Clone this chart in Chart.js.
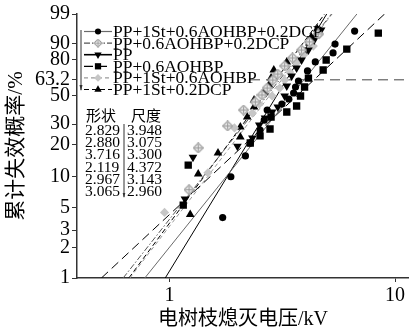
<!DOCTYPE html>
<html>
<head>
<meta charset="utf-8">
<script src="https://cdn.jsdelivr.net/npm/chart.js@4.4.1/dist/chart.umd.min.js"></script>
<style>
  html, body { margin: 0; padding: 0; background: #fff; }
  #wrap { width: 414px; height: 333px; position: relative; }
</style>
</head>
<body>
<div id="wrap"><canvas id="c" width="414" height="333"></canvas></div>
<script>
// series names, Weibull fit parameters (shape, scale)
const names  = ['PP+1St+0.6AOHBP+0.2DCP', 'PP+0.6AOHBP+0.2DCP', 'PP', 'PP+0.6AOHBP', 'PP+1St+0.6AOHBP', 'PP+1St+0.2DCP'];
const shapes = [2.829, 2.880, 3.716, 2.119, 2.967, 3.065];
const scaleK = [3.948, 3.075, 3.300, 4.372, 3.143, 2.960];

// measured points: breakdown voltage (kV) / cumulative failure probability (%)
const v1 = [1.72, 1.87, 2.17, 2.28, 2.52, 2.63, 2.71, 3.15, 3.38, 3.55, 3.62, 3.73, 4.09, 4.43, 5.31, 5.42, 6.62];
const f1 = [4.0, 10.0, 15.7, 20.6, 26.8, 32.5, 39.1, 43.4, 47.3, 52.1, 57.1, 62.2, 70.7, 78.0, 84.5, 89.9, 95.5];
const v2 = [1.22, 1.34, 1.81, 2.13, 2.40, 2.57, 2.71, 2.87, 3.02, 3.24, 3.51, 3.85, 4.17, 4.56];
const f2 = [7.5, 18.6, 29.0, 39.1, 45.0, 50.5, 56.2, 63.0, 68.1, 74.8, 81.0, 86.4, 91.0, 94.5];
const v3 = [1.17, 1.27, 2.00, 2.33, 2.50, 2.65, 2.85, 3.02, 3.24, 3.31, 3.48, 3.66, 3.85, 4.13, 4.38, 4.70];
const f3 = [6.1, 15.3, 19.3, 22.8, 29.5, 33.8, 37.7, 41.2, 49.7, 57.9, 66.4, 73.1, 79.5, 86.4, 91.9, 95.8];
const v4 = [1.15, 1.21, 2.28, 2.52, 2.79, 2.82, 3.31, 3.66, 3.81, 3.97, 4.13, 4.80, 4.95, 6.11, 8.43];
const f4 = [5.3, 12.9, 20.6, 23.8, 27.3, 34.4, 37.7, 42.0, 49.7, 57.1, 64.7, 71.5, 79.5, 87.0, 94.8];
const v5 = [0.95, 1.48, 1.94, 2.33, 2.50, 2.85, 3.08, 3.24, 3.41, 3.66, 3.93, 4.34, 4.61];
const f5 = [4.5, 10.9, 27.9, 37.0, 43.4, 49.7, 56.2, 63.0, 69.8, 77.2, 83.1, 88.8, 94.1];
const v6 = [1.235, 1.34, 1.64, 2.06, 2.06, 2.21, 2.37, 2.37, 2.63, 2.76, 2.82, 2.90, 3.31, 3.93, 4.17, 4.25, 4.52];
const f6 = [4.3, 10.6, 16.7, 23.3, 28.4, 34.4, 41.2, 46.5, 53.0, 58.8, 64.7, 71.5, 78.0, 85.1, 90.5, 93.3, 96.1];

const yTicks  = [1, 2, 3, 5, 10, 20, 30, 50, 63.2, 80, 90, 99];
const xTicks  = [1, 10];
const refLevel = 63.2;

// Weibull probability transform
const weib = (p) => Math.log(-Math.log(1 - p / 100));
const fitV = (i, p) => scaleK[i] * Math.exp(weib(p) / shapes[i]);

// crossed diamond marker
const crossDia = (() => {
  const m = document.createElement('canvas');
  m.width = m.height = 11;
  const c = m.getContext('2d');
  c.strokeStyle = '#9a9a9a'; c.fillStyle = '#ececec'; c.lineWidth = 1.1;
  c.beginPath(); c.moveTo(5.5, 0.6); c.lineTo(10.4, 5.5); c.lineTo(5.5, 10.4); c.lineTo(0.6, 5.5); c.closePath();
  c.fill(); c.stroke();
  c.beginPath(); c.moveTo(5.5, 2.2); c.lineTo(5.5, 8.8); c.moveTo(2.2, 5.5); c.lineTo(8.8, 5.5); c.stroke();
  return m;
})();

const vals = [v1, v2, v3, v4, v5, v6];
const probs = [f1, f2, f3, f4, f5, f6];
const marks = [
  { pointStyle: 'circle',   radius: 3.6, color: '#000', rot: 0 },
  { pointStyle: crossDia,   radius: 5,   color: '#999', rot: 0 },
  { pointStyle: 'triangle', radius: 5,   color: '#000', rot: 180 },
  { pointStyle: 'rect',     radius: 5.2, color: '#000', rot: 0 },
  { pointStyle: 'rectRot',  radius: 4.6, color: '#c6c6c6', rot: 0 },
  { pointStyle: 'triangle', radius: 5,   color: '#000', rot: 0 },
];
const lines = [
  { color: '#6a6a6a', dash: [] },
  { color: '#555',    dash: [6, 2, 1.5, 2] },
  { color: '#000',    dash: [] },
  { color: '#000',    dash: [9, 5] },
  { color: '#9a9a9a', dash: [4, 3] },
  { color: '#000',    dash: [5, 3] },
];

const pointSets = vals.map((v, i) => ({
  type: 'scatter',
  label: names[i],
  data: v.map((x, k) => ({ x, y: weib(probs[i][k]) })),
  pointStyle: marks[i].pointStyle,
  pointRadius: marks[i].radius,
  pointRotation: marks[i].rot,
  backgroundColor: marks[i].color,
  borderColor: marks[i].color,
  borderWidth: 0,
  order: 1,
}));

const fitSets = names.map((n, i) => ({
  type: 'line',
  label: n + ' fit',
  data: [{ x: fitV(i, 1), y: weib(1) }, { x: fitV(i, 99), y: weib(99) }],
  borderColor: lines[i].color,
  borderDash: lines[i].dash,
  borderWidth: 1,
  pointRadius: 0,
  fill: false,
  order: 5,
}));

const serif = '"Liberation Serif", "Times New Roman", "Noto Sans CJK SC", serif';
const cjk = '"Liberation Serif", "Noto Sans CJK SC", serif';

const overlay = {
  id: 'overlay',
  beforeDatasetsDraw(chart) {
    const { ctx, chartArea, scales: { y } } = chart;
    const yy = y.getPixelForValue(weib(refLevel));
    ctx.save();
    ctx.strokeStyle = '#444'; ctx.lineWidth = 1; ctx.setLineDash([10, 6]);
    ctx.beginPath(); ctx.moveTo(250, yy); ctx.lineTo(chartArea.right, yy); ctx.stroke();
    ctx.restore();
  },
  afterDraw(chart) {
    const ctx = chart.ctx;
    ctx.save();
    // legend
    names.forEach((n, i) => {
      const ly = 31.5 + i * 11.6;
      ctx.strokeStyle = lines[i].color; ctx.lineWidth = i === 2 ? 1.6 : 1.2;
      ctx.setLineDash(lines[i].dash);
      ctx.beginPath(); ctx.moveTo(84, ly); ctx.lineTo(112, ly); ctx.stroke();
      ctx.setLineDash([]);
      if (typeof marks[i].pointStyle === 'object') {
        ctx.drawImage(marks[i].pointStyle, 98 - 4.5, ly - 4.5, 9, 9);
      } else {
        ctx.fillStyle = marks[i].color;
        Chart.helpers.drawPoint(ctx, {
          pointStyle: marks[i].pointStyle, radius: marks[i].radius * 0.85, rotation: marks[i].rot, borderWidth: 0,
        }, 98, ly);
      }
      ctx.fillStyle = '#000';
      ctx.font = '17.5px ' + serif;
      ctx.textBaseline = 'middle'; ctx.textAlign = 'left';
      ctx.fillText(n, 113, ly + 1);
    });
    // small arrow beside legend
    ctx.strokeStyle = '#333'; ctx.lineWidth = 1;
    ctx.beginPath(); ctx.moveTo(81, 30); ctx.lineTo(81, 90); ctx.stroke();
    ctx.beginPath(); ctx.moveTo(79.5, 85); ctx.lineTo(81, 91); ctx.lineTo(82.5, 85); ctx.fillStyle = '#333'; ctx.fill();

    // parameter table
    ctx.fillStyle = '#000';
    ctx.font = '15px ' + cjk;
    ctx.textBaseline = 'middle';
    ctx.fillText('形状', 86, 117);
    ctx.fillText('尺度', 131, 117);
    ctx.font = '15.5px ' + serif;
    shapes.forEach((s, i) => {
      const ty = 131 + i * 12.2;
      ctx.fillText(s.toFixed(3), 85, ty);
      ctx.fillText(scaleK[i].toFixed(3), 127, ty);
    });
    ctx.beginPath(); ctx.moveTo(124, 124); ctx.lineTo(124, 197); ctx.stroke();
    ctx.beginPath(); ctx.moveTo(122.7, 193); ctx.lineTo(124, 198); ctx.lineTo(125.3, 193); ctx.fillStyle = '#333'; ctx.fill();
    ctx.restore();
  }
};

new Chart(document.getElementById('c'), {
  type: 'scatter',
  data: { datasets: [...pointSets, ...fitSets] },
  plugins: [overlay],
  options: {
    responsive: false,
    animation: false,
    layout: { padding: { top: 14, right: 0, left: 0, bottom: 0 } },
    plugins: { legend: { display: false }, tooltip: { enabled: false } },
    scales: {
      x: {
        type: 'logarithmic',
        min: 0.3886, max: 11.51,
        afterBuildTicks: (s) => { s.ticks = xTicks.map(v => ({ value: v })); },
        afterFit: (s) => { s.height = 55; },
        ticks: { color: '#000', font: { family: serif, size: 20 }, padding: 2, callback: (v) => String(v), autoSkip: false, maxRotation: 0 },
        grid: { drawOnChartArea: false, tickLength: 4, color: '#333' },
        border: { color: '#333', width: 1.5 },
        title: { display: true, text: '电树枝熄灭电压/kV', color: '#000', font: { family: cjk, size: 20 }, padding: { top: 0, bottom: 1 } },
      },
      y: {
        type: 'linear',
        min: weib(1), max: weib(99),
        afterBuildTicks: (s) => { s.ticks = yTicks.map(v => ({ value: weib(v) })); },
        afterFit: (s) => { s.width = 77; },
        ticks: { color: '#000', font: { family: serif, size: 20 }, padding: 2, autoSkip: false, callback: (v, i) => String(yTicks[i]) },
        grid: { drawOnChartArea: false, tickLength: 5, color: '#333' },
        border: { color: '#333', width: 1.5 },
        title: { display: true, text: '累计失效概率/%', color: '#000', font: { family: cjk, size: 21 }, padding: { top: 4, bottom: 0 } },
      },
    },
  },
});
</script>
</body>
</html>
